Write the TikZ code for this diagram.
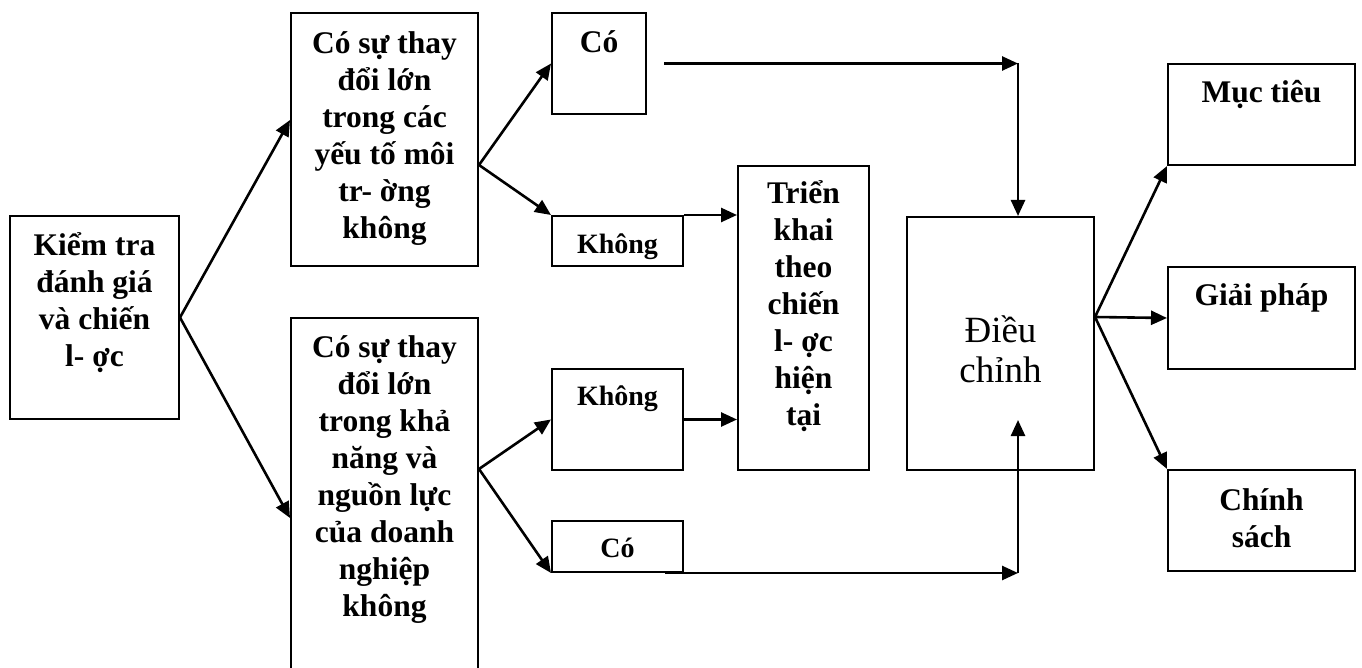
\documentclass[tikz,border=0pt]{standalone}
\usepackage{fontspec}
\setmainfont{Liberation Serif}
\usetikzlibrary{arrows.meta,calc}
% invisible strut that fixes the height of a label's first line
\newcommand\lnstrut{\rule{0pt}{34pt}}
% keep the line pitch exact even with stacked accents
\lineskiplimit=-50pt\relax
\begin{document}
\begin{tikzpicture}[x=1pt,y=-1pt,
  box/.style={draw,line width=2pt,rectangle,inner sep=0pt,anchor=north west},
  lbl/.style={anchor=north,inner sep=0pt,align=center,
    font=\fontsize{31.5}{37}\selectfont\bfseries},
  small/.style={font=\fontsize{28}{37}\selectfont\bfseries},
  link/.style={line width=2.6pt,-{Triangle[length=16pt,width=14pt]}}]
\useasboundingbox (0,0) rectangle (1362,668);
\clip (0,0) rectangle (1362,668);
\fill[white] (0,0) rectangle (1362,668);

% boxes
\node[box,minimum width=169pt,minimum height=203pt] (k) at (9,215) {};
\node[box,minimum width=187pt,minimum height=253pt] (t) at (290,12) {};
\node[box,minimum width=187pt,minimum height=403pt] (b) at (290,317) {};
\node[box,minimum width=94pt,minimum height=101pt] (co1) at (551,12) {};
\node[box,minimum width=131pt,minimum height=50pt] (ko1) at (551,215) {};
\node[box,minimum width=131pt,minimum height=101pt] (ko2) at (551,368) {};
\node[box,minimum width=131pt,minimum height=51pt] (co2) at (551,520) {};
\node[box,minimum width=131pt,minimum height=304pt] (tk) at (737,165) {};
\node[box,minimum width=187pt,minimum height=253pt] (dc) at (906,216) {};
\node[box,minimum width=187pt,minimum height=101pt] (mt) at (1167,63) {};
\node[box,minimum width=187pt,minimum height=102pt] (gp) at (1167,266) {};
\node[box,minimum width=187pt,minimum height=101pt] (cs) at (1167,469) {};

% labels
\node[lbl] (k-t) at ($(k.north)+(0,6)$) {\lnstrut Kiểm tra\\đánh giá\\và chiến\\l- ợc};
\node[lbl] (t-t) at ($(t.north)+(0,7)$) {\lnstrut Có sự thay\\đổi lớn\\trong các\\yếu tố môi\\tr- ờng\\không};
\node[lbl] (b-t) at ($(b.north)+(0,6)$) {\lnstrut Có sự thay\\đổi lớn\\trong khả\\năng và\\nguồn lực\\của doanh\\nghiệp\\không};
\node[lbl] (co1-t) at ($(co1.north)+(0,6)$) {\lnstrut Có};
\node[lbl,small] (ko1-t) at ($(ko1.north)+(0,4)$) {\lnstrut Không};
\node[lbl,small] (ko2-t) at ($(ko2.north)+(0,3)$) {\lnstrut Không};
\node[lbl,small] (co2-t) at ($(co2.north)+(0,3)$) {\lnstrut Có};
\node[lbl] (tk-t) at ($(tk.north)+(0,4)$) {\lnstrut Triển\\khai\\theo\\chiến\\l- ợc\\hiện\\tại};
\node[lbl,font=\fontsize{37}{40}\selectfont] (dc-t) at ($(dc.north)+(0,86)$) {\rule{0pt}{40pt}Điều\\chỉnh};
\node[lbl] (mt-t) at ($(mt.north)+(0,5)$) {\lnstrut Mục tiêu};
\node[lbl] (gp-t) at ($(gp.north)+(0,5)$) {\lnstrut Giải pháp};
\node[lbl] (cs-t) at ($(cs.north)+(0,7)$) {\lnstrut Chính\\sách};

% first split
\draw[link] (k.east) -- ($(t.north west)+(0,108)$);
\draw[link] (k.east) -- ($(b.north west)+(0,201)$);

% branches of the two questions
\coordinate (tfan) at ($(t.north east)+(0,153)$);
\draw[link] (tfan) -- (co1.west);
\draw[link] (tfan) -- (ko1.north west);
\coordinate (bfan) at ($(b.north east)+(0,152)$);
\draw[link] (bfan) -- (ko2.west);
\draw[link] (bfan) -- (co2.south west);

% "Không" leads to keeping the current strategy
\draw[link] (ko1.north east) -- (tk.west |- ko1.north east);
\draw[link] (ko2.east) -- (tk.west |- ko2.east);

% "Có" leads to adjustment
\coordinate (dcx) at ($(dc.north west)+(112,0)$);
\coordinate (ctop) at (dcx |- co1.east);
\coordinate (cbot) at (dcx |- co2.south);
\draw[link] ($(co1.east)+(17,0)$) -- (ctop);
\draw[link] (ctop) -- (dcx);
\draw[link] ($(co2.south east)+(-19,0)$) -- (cbot);
\draw[link] (cbot) -- ($(dcx)+(0,204)$);

% outputs of the adjustment
\coordinate (dfan) at ($(dc.north east)+(0,101)$);
\draw[link] (dfan) -- (mt.south west);
\draw[link] (dfan) -- (gp.west);
\draw[link] (dfan) -- (cs.north west);
\end{tikzpicture}
\end{document}
